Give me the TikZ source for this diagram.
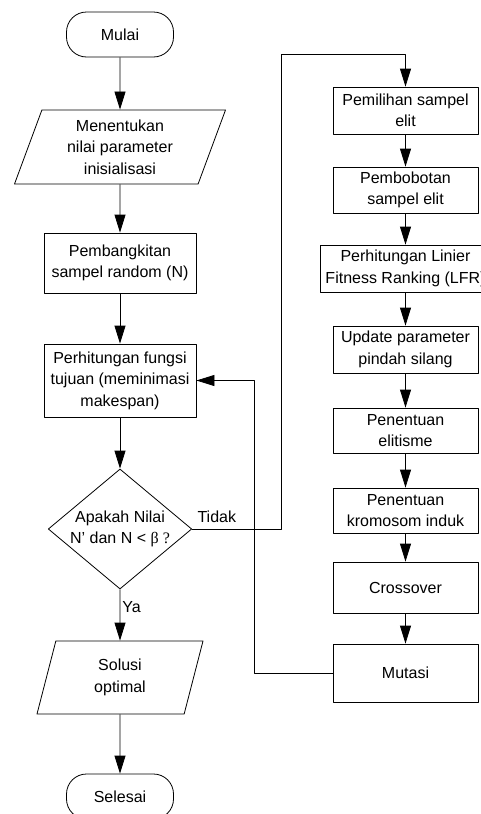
\documentclass[tikz,border=0pt]{standalone}
\usepackage{fontspec}
\setmainfont{Liberation Sans}
\newfontfamily\serifsym{Liberation Serif}
\usetikzlibrary{arrows.meta,shapes.geometric}

\begin{document}
\begin{tikzpicture}[x=1pt, y=-1pt, line join=round, line width=0.8pt,
	>={Triangle[length=18pt,width=11pt]},
	font=\fontsize{16}{21.5}\selectfont,
	every node/.style={align=center, inner sep=2pt},
	proses/.style={draw, rectangle, minimum width=145pt, minimum height=47pt},
	terminal/.style={draw, rounded corners=20pt, minimum width=107pt, minimum height=45pt},
	data/.style={draw, trapezium, trapezium left angle=65, trapezium right angle=115,
		trapezium stretches body, minimum height=74pt},
	keputusan/.style={draw, diamond, aspect=1.2, minimum width=143pt, minimum height=120pt, inner sep=0pt},
	garis/.style={->}]
	\useasboundingbox (0,0) rectangle (481,814);
	\path
	(281,54) coordinate (atas)
	(254,673) coordinate (balik);
	% kolom kiri
	\node[terminal] (mulai) at (120,34.5) {Mulai};
	\node[data, minimum width=211pt] (input) at (120,147) {Menentukan\\nilai parameter\\inisialisasi};
	\node[proses, minimum width=152pt, minimum height=60pt] (bangkit) at (120,263) {Pembangkitan\\sampel random (N)};
	\node[proses, minimum width=152pt, minimum height=73pt] (fungsi) at (120,380.5) {Perhitungan fungsi\\tujuan (meminimasi\\makespan)};
	\node[keputusan] (cek) at (120,529) {Apakah Nilai\\N’ dan N < {\serifsym β ?}};
	\node[data, minimum width=166pt, minimum height=73pt] (solusi) at (120,677.5) {Solusi\\optimal};
	\node[terminal] (selesai) at (120,796.5) {Selesai};
	% kolom kanan
	\node[proses] (pilih) at (405.5,110.5) {Pemilihan sampel\\elit};
	\node[proses, minimum height=46pt] (bobot) at (405.5,190) {Pembobotan\\sampel elit};
	\node[proses, minimum width=171pt] (lfr) at (405.5,268.5) {Perhitungan Linier\\Fitness Ranking (LFR)};
	\node[proses] (update) at (405.5,349.5) {Update parameter\\pindah silang};
	\node[proses, minimum height=45pt] (elit) at (405.5,430.5) {Penentuan\\elitisme};
	\node[proses, minimum height=45pt] (induk) at (405.5,510.5) {Penentuan\\kromosom induk};
	\node[proses, minimum height=51pt] (cross) at (405.5,587.5) {Crossover};
	\node[proses, minimum height=58pt] (mutasi) at (405.5,673) {Mutasi};
	% panah
	\foreach \a/\b in {mulai/input, input/bangkit, bangkit/fungsi, fungsi/cek, solusi/selesai,
		pilih/bobot, bobot/lfr, lfr/update, update/elit, elit/induk, induk/cross, cross/mutasi}
	\draw[garis] (\a.south) -- (\b.north);
	\draw[garis] (cek.south) -- node[right, pos=0.35]{Ya} (solusi.north);
	\draw[garis] (cek.east) node[above right, xshift=3pt, yshift=4pt]{Tidak} -| (atas) -| (pilih.north);
	\draw[garis] (mutasi.west) -- (balik) |- (fungsi.east);
\end{tikzpicture}
\end{document}
